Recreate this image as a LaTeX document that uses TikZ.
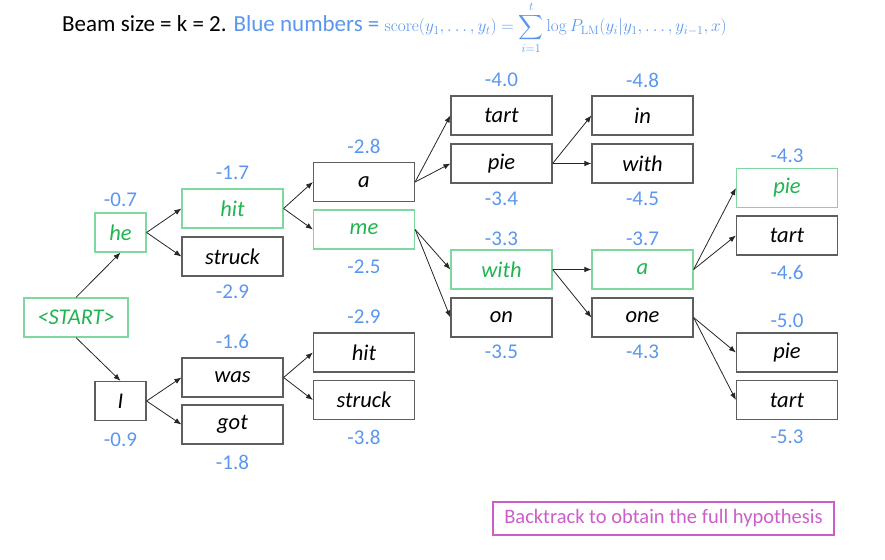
\documentclass[tikz,border=0pt]{standalone}
\usepackage{exscale}
\usepackage[no-math]{fontspec}
\setmainfont{Carlito}
\usetikzlibrary{arrows.meta, positioning}
\definecolor{cblue}{HTML}{5B96EE}
\definecolor{cgreen}{HTML}{22B452}
\definecolor{cgreenline}{HTML}{7DD9A0}
\definecolor{cgrey}{HTML}{5E5E5E}
\definecolor{cpink}{HTML}{CC5ECC}
\tikzset{
  every picture/.style={x=1pt, y=-1pt, font=\fontsize{21}{24}\selectfont},
  box/.style={draw=cgrey, line width=1.2pt, minimum width=101pt, minimum height=39pt, inner sep=0pt, font=\fontsize{22.5}{26}\selectfont\itshape},
  hyp/.style={box, draw=cgreenline, text=cgreen},
  small/.style={minimum width=51pt},
  score/.style={text=cblue, inner sep=0pt},
  arrow/.style={-{Latex[length=7pt, width=5.5pt]}, draw=black!85, line width=0.8pt},
  note/.style={draw=cpink, text=cpink, line width=1.2pt, minimum width=341pt, minimum height=33pt, inner sep=0pt, font=\fontsize{20.5}{23}\selectfont},
}

\begin{document}
\begin{tikzpicture}
  \useasboundingbox (0,0) rectangle (885,559);
  \node[anchor=base west, inner sep=0pt, font=\fontsize{23}{26}\selectfont] (title) at (62,32) {Beam size = k = 2. \textcolor{cblue}{Blue numbers = {\fontsize{16.8}{19}\selectfont$\displaystyle \mathrm{score}(y_1,\ldots,y_t)=\sum_{i=1}^{t}\log P_{\mathrm{LM}}(y_i|y_1,\ldots,y_{i-1},x)$}}};
  % beam tree
  \node[hyp, minimum width=104pt] (start) at (76,317.5) {<START>};
  \node[hyp, small] (he) at (120.5,232.5) {he};
  \node[box, small] (I) at (120.5,401) {I};
  \node[hyp] (hit) at (232.5,208.5) {hit};
  \node[box] (struck) at (232.5,256.5) {struck};
  \node[box] (was) at (232.5,377.5) {was};
  \node[box] (got) at (232.5,424.5) {got};
  \node[box] (a) at (364,182) {a};
  \node[hyp] (me) at (364,229.5) {me};
  \node[box] (hitB) at (364,352.5) {hit};
  \node[box] (struckB) at (364,400) {struck};
  \node[box] (tart) at (501.5,115.5) {tart};
  \node[box] (pie) at (501.5,163.5) {pie};
  \node[hyp] (with) at (501.5,269.5) {with};
  \node[box] (on) at (501.5,317.5) {on};
  \node[box] (in) at (642.5,115.5) {in};
  \node[box] (withB) at (642.5,163.5) {with};
  \node[hyp] (aB) at (642.5,269.5) {a};
  \node[box] (one) at (642.5,317.5) {one};
  \node[hyp] (pieC) at (787,188) {pie};
  \node[box] (tartC) at (787,235.5) {tart};
  \node[box] (pieD) at (787,352.5) {pie};
  \node[box] (tartD) at (787,400) {tart};
  % scores
  \foreach \n/\x/\y/\v in {he/120.5/200/-0.7, I/120.5/440/-0.9, hit/232.5/172.5/-1.7, struck/232.5/291.5/-2.9,
      was/232.5/341.5/-1.6, got/232.5/462/-1.8, a/364/146/-2.8, me/364/266.5/-2.5, hitB/364/317/-2.9,
      struckB/364/437/-3.8, tart/501.5/80/-4.0, pie/501.5/198.5/-3.4, with/501.5/239/-3.3, on/501.5/352/-3.5,
      in/642.5/80/-4.8, withB/642.5/198.5/-4.5, aB/642.5/239/-3.7, one/642.5/352/-4.3,
      pieC/787/156/-4.3, tartC/787/272.5/-4.6, pieD/787/320.5/-5.0, tartD/787/437/-5.3}
    \node[score] (score-\n) at (\x,\y) {\v};
  % expansions
  \draw[arrow] (start.north) -- (he.south);
  \draw[arrow] (start.south) -- (I.north);
  \foreach \a/\b in {he/hit, he/struck, I/was, I/got, hit/a, hit/me, was/hitB, was/struckB,
      a/tart, a/pie, me/with, me/on, pie/in, pie/withB, with/aB, with/one,
      aB/pieC, aB/tartC, one/pieD, one/tartD}
    \draw[arrow] (\a.east) -- (\b.west);
  \node[note] (backtrack) at (663.5,518.5) {Backtrack to obtain the full hypothesis};
\end{tikzpicture}
\end{document}
